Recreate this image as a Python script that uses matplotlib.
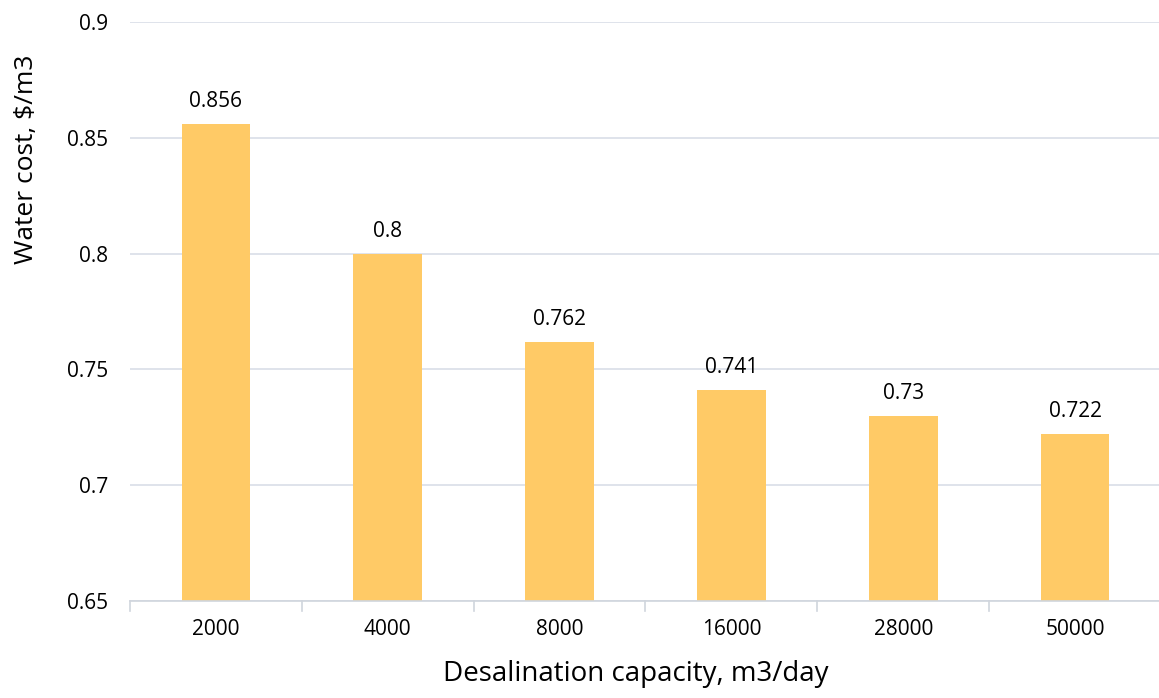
import matplotlib
matplotlib.use("Agg")
import matplotlib.pyplot as plt
import numpy as np

categories = ["2000", "4000", "8000", "16000", "28000", "50000"]
water_cost = [0.856, 0.8, 0.762, 0.741, 0.73, 0.722]
y_ticks = [0.65, 0.7, 0.75, 0.8, 0.85, 0.9]
y_tick_labels = ["0.65", "0.7", "0.75", "0.8", "0.85", "0.9"]

plt.rcParams["font.family"] = ["Open Sans", "DejaVu Sans"]

fig = plt.figure(figsize=(11.59, 6.98), dpi=100)
ax = fig.add_axes([130 / 1159, 97 / 698, 1031 / 1159, 579 / 698])

x = np.arange(len(categories))
ax.bar(x, water_cost, width=0.4, color="#FFCA66", zorder=3)

for xi, v in zip(x, water_cost):
    ax.annotate(f"{v:g}", (xi, v), xytext=(0, 8.5), textcoords="offset points",
                ha="center", va="bottom", fontsize=15, color="#000000")

ax.set_xlim(-0.5, len(categories) - 0.5)
ax.set_ylim(0.65, 0.9)
ax.set_yticks(y_ticks)
ax.set_yticklabels(y_tick_labels, fontsize=15)
ax.set_xticks(x)
ax.set_xticklabels(categories, fontsize=15)
ax.tick_params(axis="y", length=0, pad=16)
ax.tick_params(axis="x", length=0, pad=13)

# category separator ticks on the bottom axis
for b in np.arange(-0.5, len(categories), 1.0):
    ax.plot([b, b], [0, -0.018], transform=ax.get_xaxis_transform(),
            color="#D0D5DD", lw=1.2, clip_on=False, zorder=4)

ax.yaxis.grid(True, color="#D9DEE8", lw=1.2, zorder=0)
ax.set_axisbelow(True)
for side in ["top", "right", "left"]:
    ax.spines[side].set_visible(False)
ax.spines["bottom"].set_color("#D0D5DD")
ax.spines["bottom"].set_linewidth(1.2)
ax.spines["bottom"].set_zorder(4)

ax.set_ylabel("Water cost, $/m3", fontsize=19)
ax.yaxis.label.set_va("center")
ax.yaxis.set_label_coords(-0.1, 0.763)
ax.set_xlabel("Desalination capacity, m3/day", fontsize=20)
ax.xaxis.label.set_va("center")
ax.xaxis.set_label_coords(0.491, -(674 - 601) / 579)

fig.savefig("out.png", dpi=100)
